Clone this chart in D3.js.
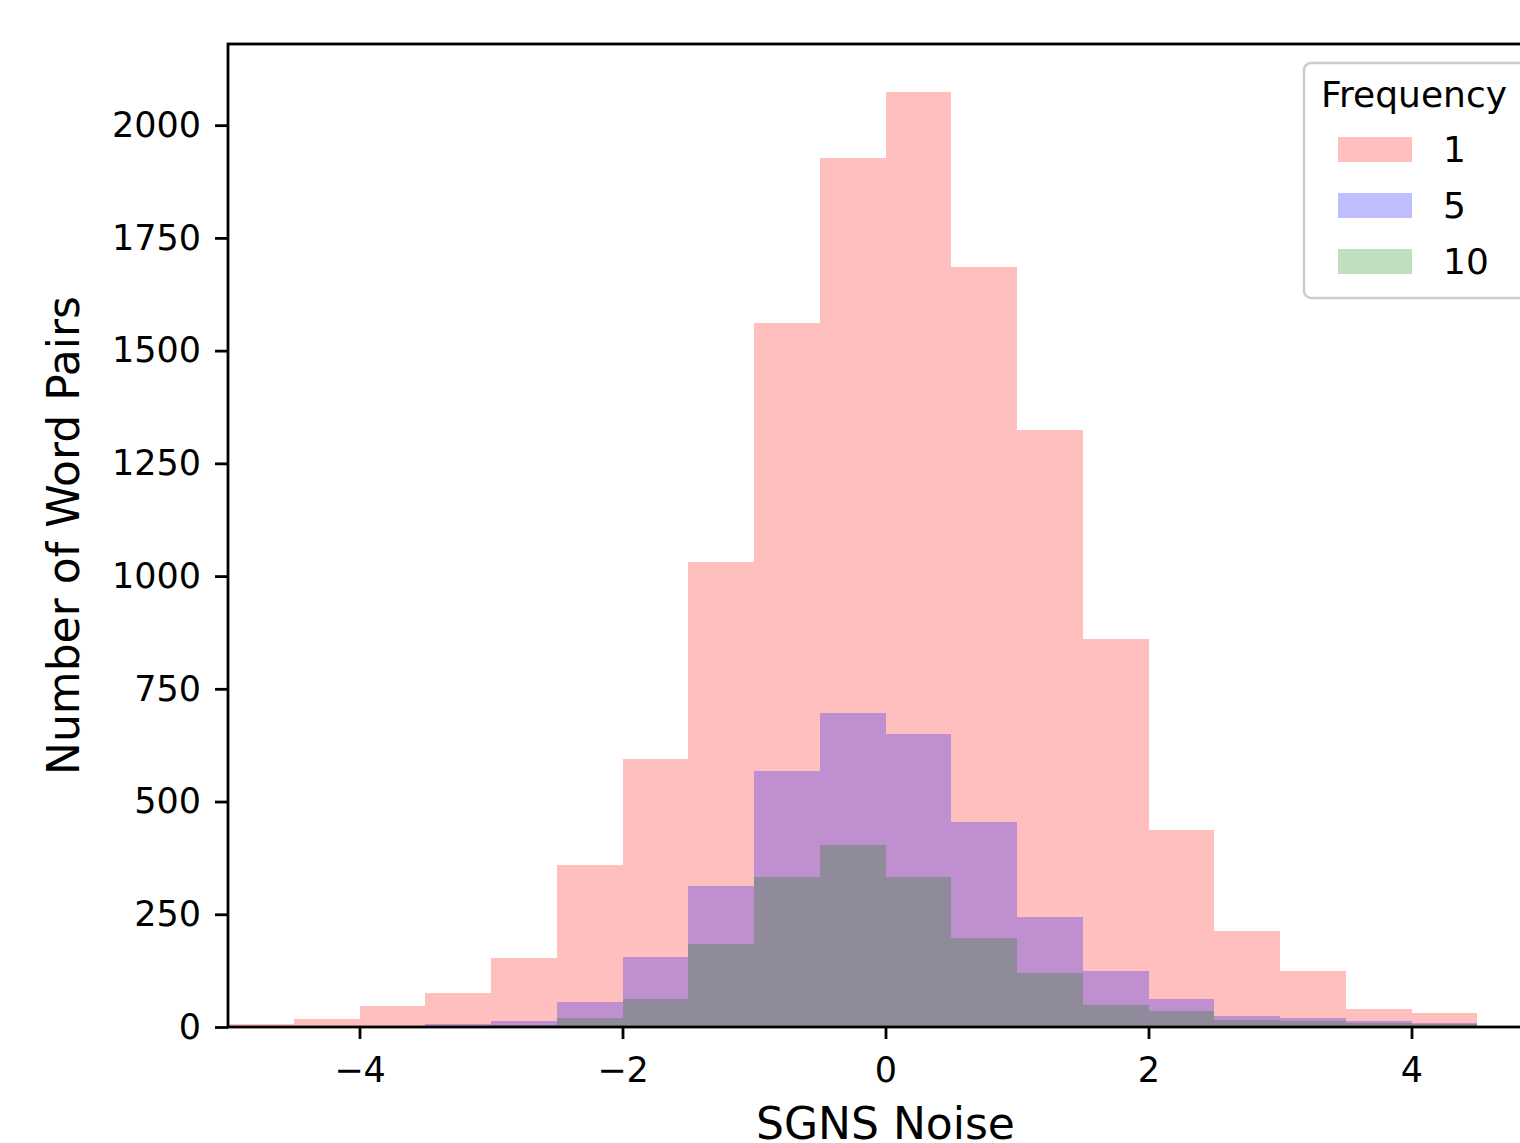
<!DOCTYPE html>
<html>
<head>
<meta charset="utf-8">
<title>SGNS Noise histogram</title>
<style>
  body { margin: 0; background: #fff; }
  svg { display: block; font-family: "DejaVu Sans", sans-serif; }
  .axis path, .axis line { stroke: #000; stroke-width: 2.8; }
  .axis text { fill: #000; font-size: 35px; font-family: "DejaVu Sans", sans-serif; }
</style>
</head>
<body>
<div id="chart"></div>
<script src="https://d3js.org/d3.v7.min.js"></script>
<script>
// histogram bin edges (SGNS noise), 20 bins of width 0.5
var binEdges = [-5, -4.5, -4, -3.5, -3, -2.5, -2, -1.5, -1, -0.5, 0,
                0.5, 1, 1.5, 2, 2.5, 3, 3.5, 4, 4.5, 5];

// counts per bin, one array per frequency group
var freq1  = [7, 17, 47, 76, 154, 360, 595, 1031, 1562, 1927, 2074, 1686, 1325, 860, 437, 212, 125, 41, 30, 0];
var freq5  = [0, 1, 3, 7, 14, 55, 155, 313, 567, 696, 649, 455, 243, 125, 61, 25, 21, 14, 9, 0];
var freq10 = [0, 0, 1, 2, 5, 20, 61, 184, 332, 403, 332, 197, 120, 49, 36, 16, 14, 9, 7, 0];

var seriesNames = ['1', '5', '10'];
var seriesColors = ['#ff0000', '#0000ff', '#008000'];
var xTicks = [-4, -2, 0, 2, 4];
var yTicks = [0, 250, 500, 750, 1000, 1250, 1500, 1750, 2000];

(function(d3) {
  'use strict';
  var width = 1520, height = 1143;
  var plotLeft = 228, plotRight = 1543, plotTop = 44, plotBottom = 1027;

  var svg = d3.select('#chart').append('svg')
    .attr('width', width)
    .attr('height', height);

  var x = d3.scaleLinear().domain([-5, 5]).range([plotLeft, plotRight]);
  var y = d3.scaleLinear().domain([0, 2180]).range([plotBottom, plotTop]);

  var series = [freq1, freq5, freq10];

  series.forEach(function(counts, s) {
    svg.append('g')
      .selectAll('rect')
      .data(counts)
      .enter()
      .append('rect')
      .attr('x', function(d, i) { return x(binEdges[i]); })
      .attr('width', function(d, i) { return x(binEdges[i + 1]) - x(binEdges[i]); })
      .attr('y', function(d) { return y(d); })
      .attr('height', function(d) { return y(0) - y(d); })
      .attr('fill', seriesColors[s])
      .attr('fill-opacity', 0.25)
      .attr('shape-rendering', 'crispEdges');
  });

  // axes
  var xAxis = svg.append('g')
    .attr('class', 'axis')
    .attr('transform', 'translate(0,' + plotBottom + ')')
    .call(d3.axisBottom(x).tickValues(xTicks).tickFormat(d3.format('d'))
      .tickSize(12).tickPadding(18).tickSizeOuter(0));
  xAxis.select('.domain').remove();

  var yAxis = svg.append('g')
    .attr('class', 'axis')
    .attr('transform', 'translate(' + plotLeft + ',0)')
    .call(d3.axisLeft(y).tickValues(yTicks).tickFormat(d3.format('d'))
      .tickSize(13).tickPadding(14).tickSizeOuter(0));
  yAxis.select('.domain').remove();

  // spines
  svg.append('rect')
    .attr('x', plotLeft)
    .attr('y', plotTop)
    .attr('width', plotRight - plotLeft)
    .attr('height', plotBottom - plotTop)
    .attr('fill', 'none')
    .attr('stroke', '#000')
    .attr('stroke-width', 2.8);

  // axis labels
  svg.append('text')
    .attr('x', (plotLeft + plotRight) / 2)
    .attr('y', 1139)
    .attr('text-anchor', 'middle')
    .style('font-size', '44px')
    .text('SGNS Noise');

  svg.append('text')
    .attr('transform', 'translate(79,' + ((plotTop + plotBottom) / 2) + ') rotate(-90)')
    .attr('text-anchor', 'middle')
    .style('font-size', '44px')
    .text('Number of Word Pairs');

  // legend
  var legend = svg.append('g').attr('transform', 'translate(1304,63)');
  legend.append('rect')
    .attr('width', 240)
    .attr('height', 235)
    .attr('rx', 7)
    .attr('fill', '#fff')
    .attr('fill-opacity', 0.8)
    .attr('stroke', '#cccccc')
    .attr('stroke-width', 2.5);
  legend.append('text')
    .attr('x', 17)
    .attr('y', 44)
    .style('font-size', '36px')
    .text('Frequency');

  var item = legend.selectAll('.item')
    .data(seriesNames)
    .enter()
    .append('g')
    .attr('class', 'item')
    .attr('transform', function(d, i) { return 'translate(0,' + (74 + i * 56) + ')'; });
  item.append('rect')
    .attr('x', 34)
    .attr('width', 74)
    .attr('height', 25)
    .attr('fill', function(d, i) { return seriesColors[i]; })
    .attr('fill-opacity', 0.25);
  item.append('text')
    .attr('x', 139)
    .attr('y', 25)
    .style('font-size', '36px')
    .text(function(d) { return d; });
})(window.d3);
</script>
</body>
</html>
